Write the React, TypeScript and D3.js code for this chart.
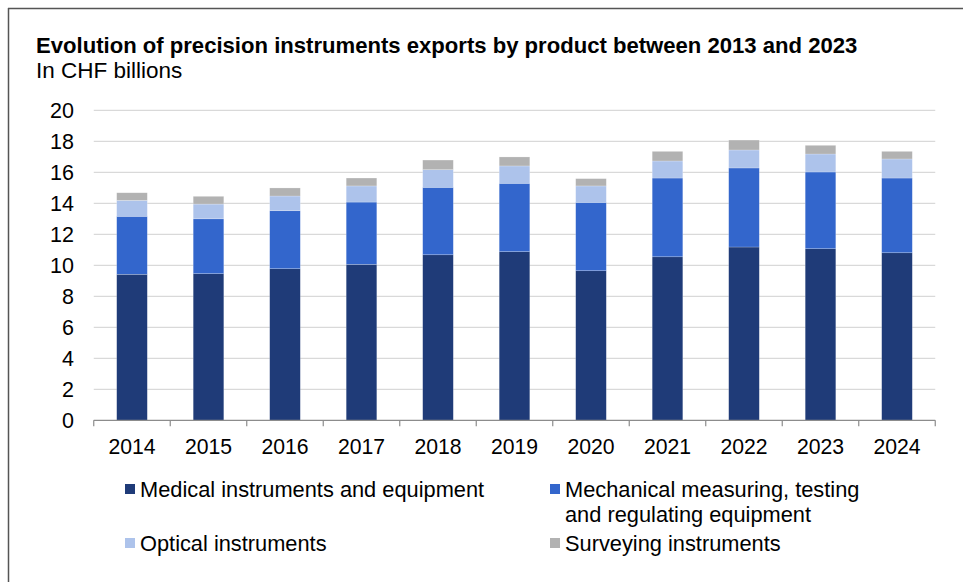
import React from "react";
import * as d3 from "d3";

const years = ["2014","2015","2016","2017","2018","2019","2020","2021","2022","2023","2024"];
const medical = [9.42, 9.46, 9.78, 10.06, 10.68, 10.88, 9.65, 10.55, 11.18, 11.07, 10.81];
const mechanical = [3.74, 3.54, 3.74, 4.02, 4.35, 4.41, 4.41, 5.08, 5.10, 4.95, 4.82];
const optical = [1.03, 0.95, 0.95, 1.04, 1.14, 1.12, 1.06, 1.10, 1.16, 1.16, 1.23];
const surveying = [0.49, 0.50, 0.52, 0.51, 0.62, 0.58, 0.47, 0.62, 0.64, 0.56, 0.49];
const seriesNames = ["Medical instruments and equipment", "Mechanical measuring, testing and regulating equipment", "Optical instruments", "Surveying instruments"];
const yTicks = [0, 2, 4, 6, 8, 10, 12, 14, 16, 18, 20];
const colors = ["#1f3b78", "#3366cc", "#adc3eb", "#b2b2b2"];

export default function App() {
  const W = 963, H = 582;
  const left = 93.75, right = 935.25, top = 110.3, bottom = 420.3;
  const x = d3.scaleBand<string>().domain(years).range([left, right]).paddingInner(0.6).paddingOuter(0.3);
  const y = d3.scaleLinear().domain([0, 20]).range([bottom, top]);
  const keys = ["medical", "mechanical", "optical", "surveying"];
  const table = years.map((yr, i) => ({ year: yr, medical: medical[i], mechanical: mechanical[i], optical: optical[i], surveying: surveying[i] }));
  const stack = d3.stack<any>().keys(keys)(table);
  const step = x.step();
  const font = "'Liberation Sans', Arial, sans-serif";
  const boundaries = d3.range(years.length + 1).map(i => left + i * step);

  return (
    <svg width={W} height={H} style={{ position: "absolute", left: 0, top: 0, fontFamily: font }}>
      <rect x={0} y={0} width={W} height={H} fill="#fff" />
      <line x1={8} y1={8.5} x2={963} y2={8.5} stroke="#555" strokeWidth={1.5} />
      <line x1={8.5} y1={8} x2={8.5} y2={582} stroke="#555" strokeWidth={1.5} />
      <text x={36} y={53} fontSize={22.1} fontWeight="bold" fill="#000">Evolution of precision instruments exports by product between 2013 and 2023</text>
      <text x={36} y={78} fontSize={22.5} fill="#000">In CHF billions</text>
      {yTicks.map(t => (
        <g key={t}>
          {t > 0 && <line x1={left} x2={right} y1={y(t)} y2={y(t)} stroke="#d9d9d9" strokeWidth={1.2} />}
          <text x={74} y={y(t)} dy="0.36em" textAnchor="end" fontSize={21.5} fill="#000">{t}</text>
        </g>
      ))}
      {stack.map((s, si) => (
        <g key={si} fill={colors[si]}>
          {s.map((d, i) => (
            <rect key={i} x={x(years[i])} width={x.bandwidth()} y={y(d[1])} height={y(d[0]) - y(d[1])} stroke="rgba(255,255,255,0.35)" strokeWidth={0.6} />
          ))}
        </g>
      ))}
      <line x1={left} x2={right} y1={bottom} y2={bottom} stroke="#8c8c8c" strokeWidth={1.2} />
      {boundaries.map((b, i) => (
        <line key={i} x1={b} x2={b} y1={bottom} y2={bottom + 6} stroke="#8c8c8c" strokeWidth={1.2} />
      ))}
      {years.map(yr => (
        <text key={yr} x={(x(yr) as number) + x.bandwidth() / 2} y={454} textAnchor="middle" fontSize={21.2} fill="#000">{yr}</text>
      ))}
      <g fontSize={21.8} fill="#000">
        <rect x={125} y={484} width={10} height={10} fill={colors[0]} />
        <text x={140} y={497}>{seriesNames[0]}</text>
        <rect x={550} y={484} width={10} height={10} fill={colors[1]} />
        <text x={565} y={497}>Mechanical measuring, testing</text>
        <text x={565} y={522}>and regulating equipment</text>
        <rect x={125} y={538} width={10} height={10} fill={colors[2]} />
        <text x={140} y={551}>{seriesNames[2]}</text>
        <rect x={550} y={538} width={10} height={10} fill={colors[3]} />
        <text x={565} y={551}>{seriesNames[3]}</text>
      </g>
    </svg>
  );
}
